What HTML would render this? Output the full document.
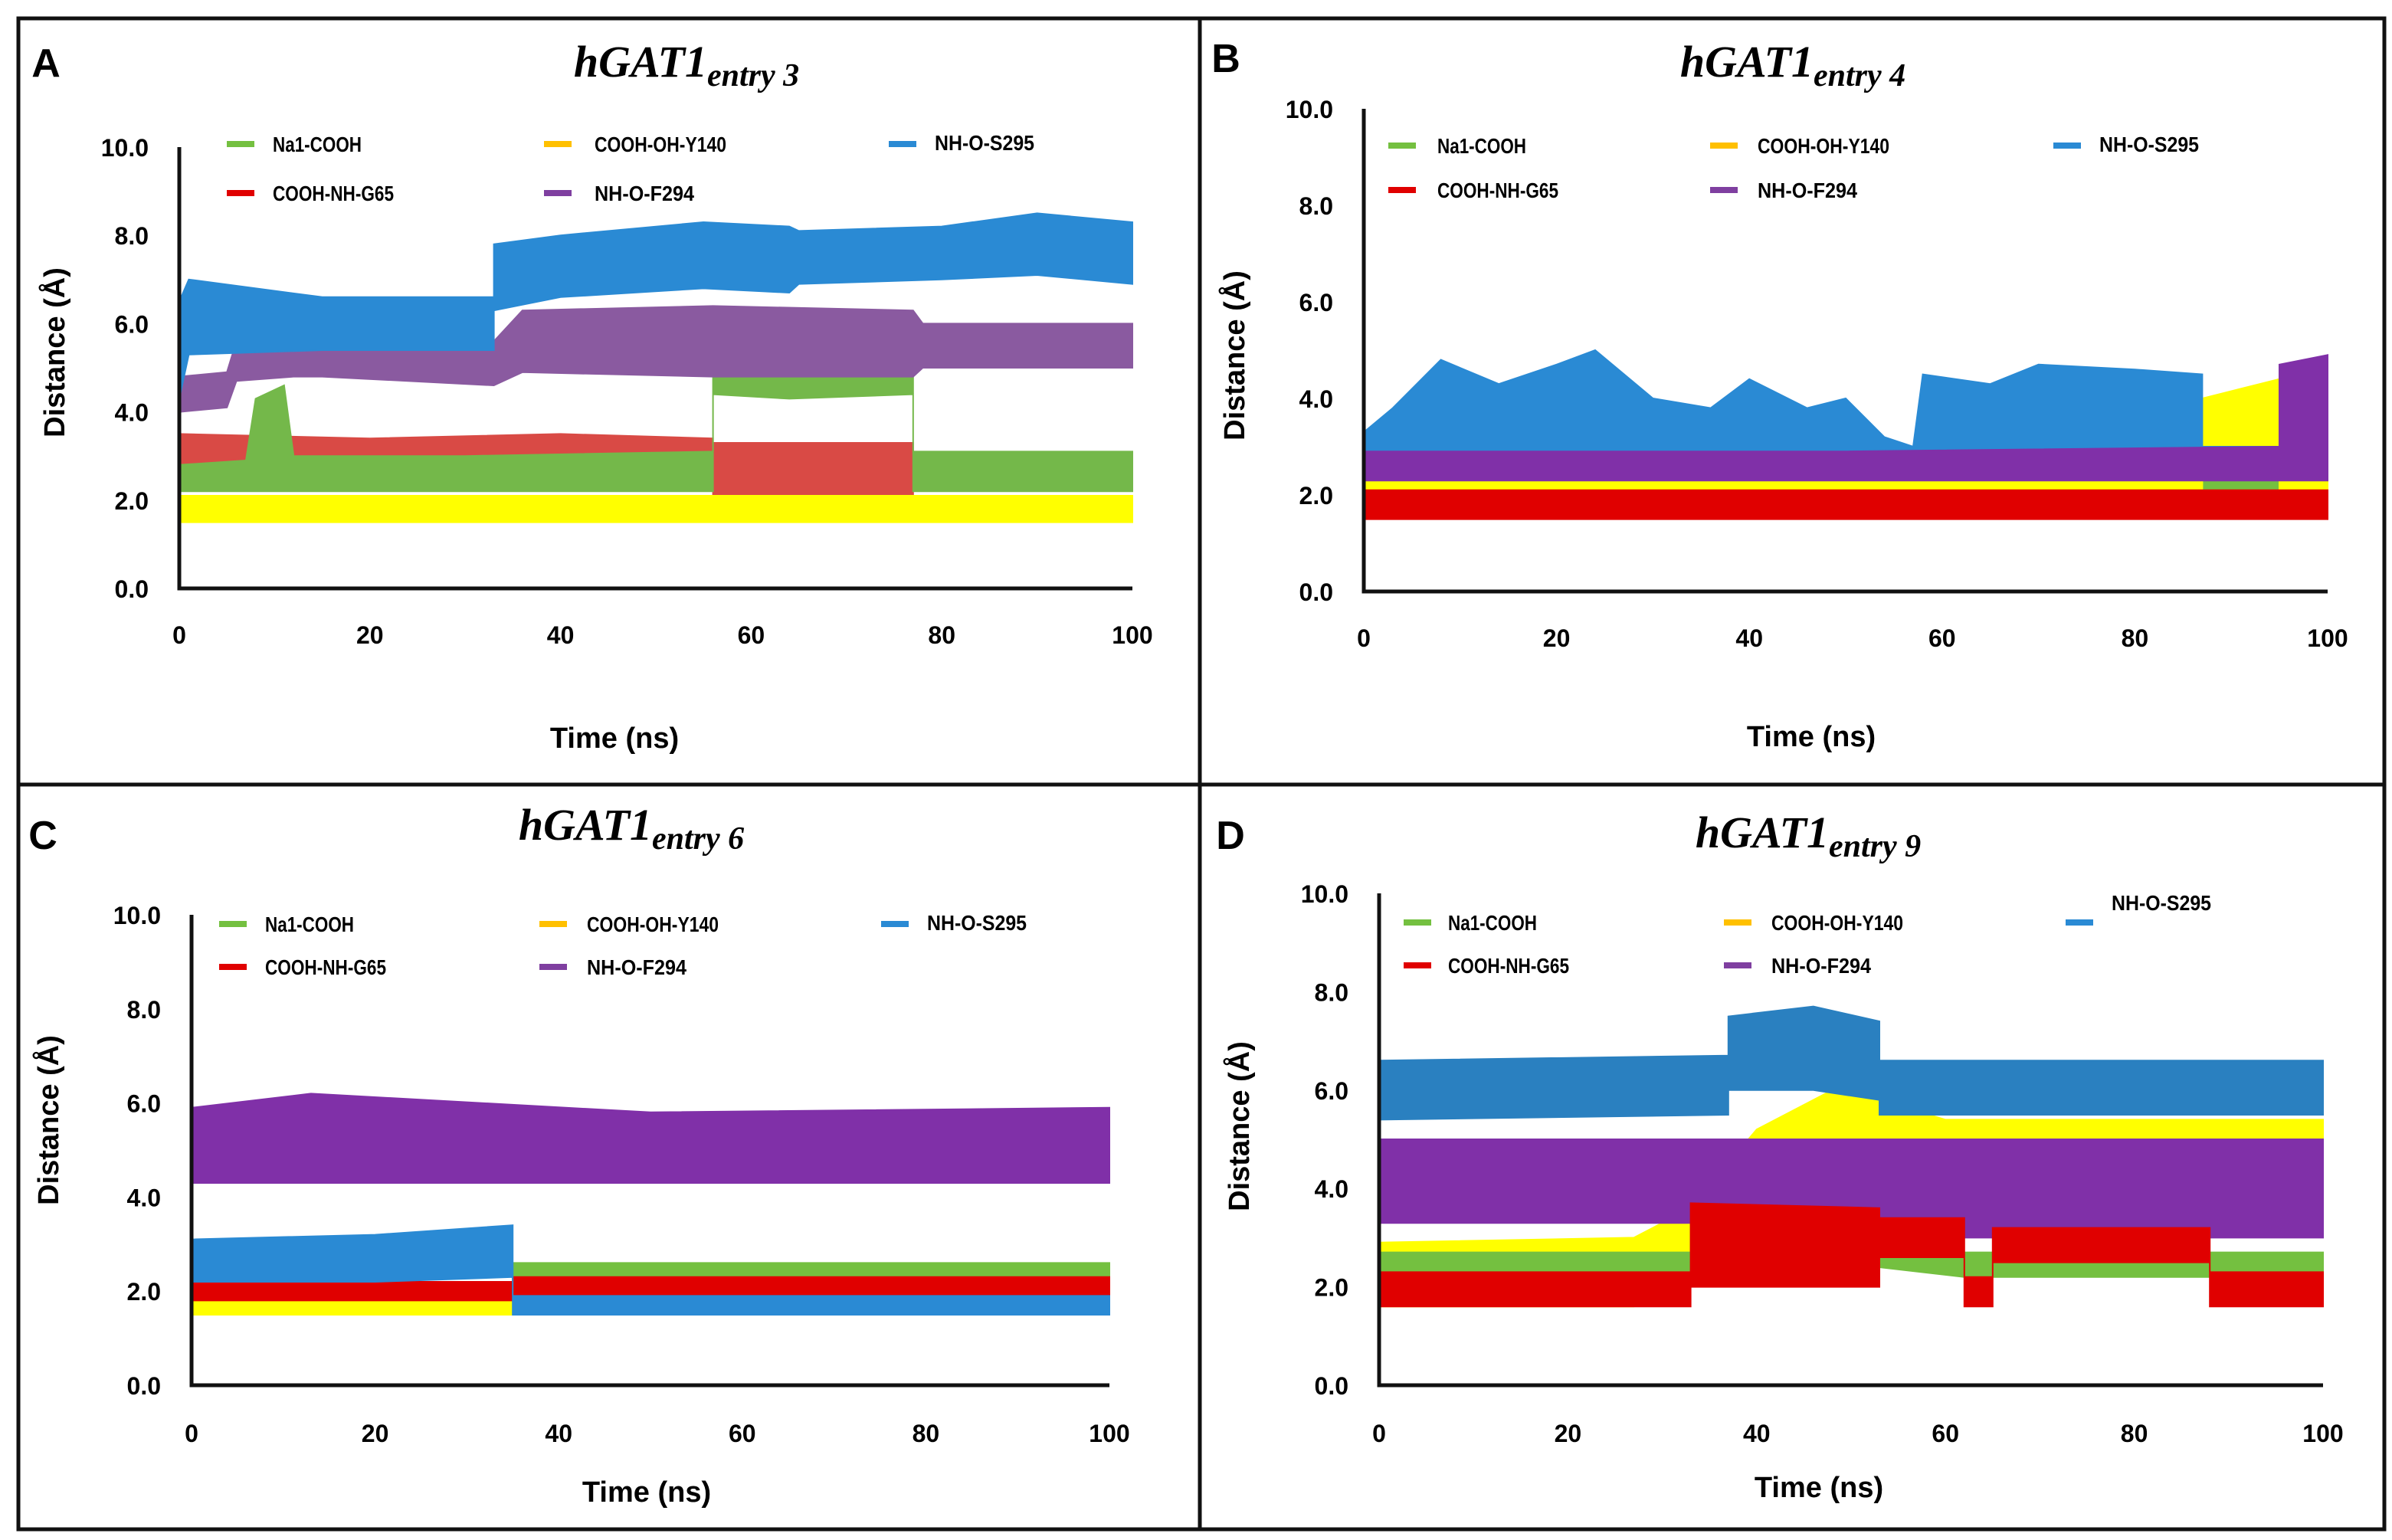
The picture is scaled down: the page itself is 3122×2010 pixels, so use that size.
<!DOCTYPE html>
<html><head><meta charset="utf-8"><style>
html,body{margin:0;padding:0;background:#fff}
svg{display:block}
</style></head><body>
<svg id="fig" width="3122" height="2010" viewBox="0 0 1561 1005" xmlns="http://www.w3.org/2000/svg" font-family="Liberation Sans, sans-serif">
<rect x="12" y="12" width="1544" height="986" fill="none" stroke="#111" stroke-width="2.5"/>
<line x1="783" y1="12" x2="783" y2="998" stroke="#111" stroke-width="2.5"/>
<line x1="12" y1="512" x2="1556" y2="512" stroke="#111" stroke-width="2.5"/>
</svg>
<script>
// ---- data: each series is [time(ns), low(Å), high(Å)] band samples ----
const xTicks = [0, 20, 40, 60, 80, 100];
const yTicks = [0, 2, 4, 6, 8, 10];
const seriesNames = ["Na1-COOH", "COOH-OH-Y140", "NH-O-S295", "COOH-NH-G65", "NH-O-F294"];

// Panel A
const A_red = [[0,2.5,3.5],[20,2.5,3.4],[40,2.6,3.5],[56,2.6,3.4],[56,2.0,3.3],[77,2.0,3.3],[77,2.3,3.0],[100,2.3,3.0]];
const A_green = [[0,2.2,2.8],[7,2.2,2.9],[8,2.2,4.3],[11,2.2,4.6],[12,2.2,3.0],[30,2.2,3.0],[56,2.2,3.1],[56,4.4,5.1],[64,4.3,5.2],[77,4.4,5.0],[77,2.2,3.1],[100,2.2,3.1]];
const A_yellow = [[0,1.5,2.1],[50,1.5,2.1],[100,1.5,2.1]];
const A_purple = [[0,4.0,4.8],[5,4.1,4.9],[6,4.7,5.6],[12,4.8,6.6],[15,4.8,6.0],[33,4.6,5.6],[36,4.9,6.3],[56,4.8,6.4],[77,4.8,6.3],[78,5.0,6.0],[100,5.0,6.0]];
const A_blue = [[0,4.3,6.5],[1,5.3,7.0],[15,5.4,6.6],[33,5.4,6.6],[33,6.3,7.8],[40,6.6,8.0],[55,6.8,8.3],[64,6.7,8.2],[65,6.9,8.1],[80,7.0,8.2],[90,7.1,8.5],[100,6.9,8.3]];

// Panel B
const B_red = [[0,1.5,2.1],[50,1.5,2.1],[100,1.5,2.1]];
const B_green = [[0,2.1,2.3],[100,2.1,2.3]];
const B_yellow = [[0,2.0,2.3],[87,2.0,2.3],[87,2.6,4.0],[95,2.6,4.4],[95,2.0,2.3],[100,2.0,2.3]];
const B_blue = [[0,2.5,3.3],[3,2.6,3.8],[8,2.7,4.8],[14,2.7,4.3],[20,2.7,4.7],[24,2.7,5.0],[30,2.7,4.0],[36,2.7,3.8],[40,2.7,4.4],[46,2.7,3.8],[50,2.7,4.0],[54,2.6,3.2],[57,2.6,3.0],[58,2.8,4.5],[65,2.8,4.3],[70,2.8,4.7],[80,2.8,4.6],[87,2.8,4.5],[87,2.6,3.0],[100,2.6,3.0]];
const B_purple = [[0,2.3,2.9],[50,2.3,2.9],[95,2.3,3.0],[95,2.3,4.7],[100,2.3,4.9]];

// Panel C
const C_yellow = [[0,1.5,2.0],[35,1.5,2.0],[35,1.6,2.0],[100,1.6,2.0]];
const C_green = [[35,2.2,2.6],[100,2.2,2.6]];
const C_red = [[0,1.8,2.2],[35,1.8,2.2],[35,1.9,2.3],[100,1.9,2.3]];
const C_blue = [[0,2.2,3.1],[20,2.2,3.2],[35,2.3,3.4],[35,1.5,1.9],[100,1.5,1.9]];
const C_purple = [[0,4.3,5.9],[13,4.3,6.2],[50,4.3,5.8],[100,4.3,5.9]];

// Panel D
const D_yellow = [[0,1.6,2.9],[27,1.6,3.0],[33,2.2,3.6],[40,2.5,5.2],[48,3.0,6.0],[53,3.0,5.8],[60,3.6,5.4],[100,3.4,5.4]];
const D_green = [[0,2.2,2.7],[33,2.2,2.7],[33,2.4,3.4],[53,2.4,3.4],[62,2.2,2.7],[65,2.2,2.7],[88,2.2,2.7],[100,2.2,2.7]];
const D_purple = [[0,3.3,5.0],[33,3.3,5.0],[36,3.0,5.0],[100,3.0,5.0]];
const D_red = [[0,1.6,2.3],[33,1.6,2.3],[33,2.0,3.7],[53,2.0,3.6],[53,2.6,3.4],[62,2.6,3.4],[62,1.6,2.2],[65,1.6,2.2],[65,2.5,3.2],[88,2.5,3.2],[88,1.6,2.3],[100,1.6,2.3]];
const D_blue = [[0,5.4,6.6],[37,5.5,6.7],[37,6.0,7.5],[46,6.0,7.7],[53,5.8,7.4],[53,5.5,6.6],[100,5.5,6.6]];

const panels = [
 {id:"a", letter:"A", lx:30, ly:50, title:[448,50], sub:"entry 3", x0:117, x1:739, y0:384, y10:96, tickY:420, tLabel:[401,488], yLabel:[42,230],
  leg:{r1:94, r2:126, c:[148,355,580], t:[178,388,610], blueTextY:93},
  colors:{green:"#74b84a",yellow:"#ffff00",red:"#d94a45",purple:"#8a5aa0",blue:"#2a8ad4"},
  order:[["red",A_red],["green",A_green],["yellow",A_yellow],["purple",A_purple],["blue",A_blue]]},
 {id:"b", letter:"B", lx:800, ly:47, title:[1170,50], sub:"entry 4", x0:890, x1:1519, y0:386, y10:71, tickY:422, tLabel:[1182,487], yLabel:[812,232],
  leg:{r1:95, r2:124, c:[906,1116,1340], t:[938,1147,1370], blueTextY:94},
  colors:{green:"#74c040",yellow:"#ffff00",red:"#e00000",purple:"#8030a8",blue:"#2a8ad4"},
  order:[["green",B_green],["yellow",B_yellow],["blue",B_blue],["purple",B_purple],["red",B_red]]},
 {id:"c", letter:"C", lx:28, ly:554, title:[412,548], sub:"entry 6", x0:125, x1:724, y0:904, y10:597, tickY:941, tLabel:[422,980], yLabel:[38,731],
  leg:{r1:603, r2:631, c:[143,352,575], t:[173,383,605], blueTextY:602},
  colors:{green:"#74c040",yellow:"#ffff00",red:"#e00000",purple:"#8030a8",blue:"#2a8ad4"},
  order:[["yellow",C_yellow],["green",C_green],["red",C_red],["blue",C_blue],["purple",C_purple]]},
 {id:"d", letter:"D", lx:803, ly:554, title:[1180,553], sub:"entry 9", x0:900, x1:1516, y0:904, y10:583, tickY:941, tLabel:[1187,977], yLabel:[815,735],
  leg:{r1:602, r2:630, c:[916,1125,1348], t:[945,1156,1378], blueTextY:589},
  colors:{green:"#74c040",yellow:"#ffff00",red:"#e00000",purple:"#8030a8",blue:"#2a80c0"},
  order:[["yellow",D_yellow],["green",D_green],["purple",D_purple],["red",D_red],["blue",D_blue]]}
];

const NS = "http://www.w3.org/2000/svg";
const fig = document.getElementById("fig");
function mk(tag, attrs, parent, txt){
  const e = document.createElementNS(NS, tag);
  for (const k in attrs) e.setAttribute(k, attrs[k]);
  if (txt !== undefined) e.textContent = txt;
  parent.appendChild(e);
  return e;
}

panels.forEach(p => {
  const g = mk("g", {}, fig);
  
  
  const xs = t => p.x0 + (p.x1 - p.x0) * t / 100;
  const ys = v => p.y0 - (p.y0 - p.y10) * v / 10;

  const L = mk("text", {x:p.lx, y:p.ly, "font-size":26, "font-weight":"bold", "text-anchor":"middle"}, g, p.letter);
  
  

  const T = mk("text", {x:p.title[0], y:p.title[1], "text-anchor":"middle", "font-family":"Liberation Serif, serif", "font-style":"italic", "font-weight":"bold", "font-size":29}, g);
  
  
  mk("tspan", {}, T, "hGAT1");
  mk("tspan", {"font-size":21, dy:6}, T, p.sub);

  p.order.forEach(([name, data]) => {
    const up = data.map(d => xs(d[0]).toFixed(1) + "," + ys(d[2]).toFixed(1));
    const lo = data.slice().reverse().map(d => xs(d[0]).toFixed(1) + "," + ys(d[1]).toFixed(1));
    const poly = mk("polygon", {points: up.concat(lo).join(" "), fill: p.colors[name], stroke: p.colors[name], "stroke-width":1}, g);
    
    
  });

  const ax = mk("path", {d:`M${p.x0},${ys(10)} V${p.y0} H${p.x1}`, fill:"none", stroke:"#111", "stroke-width":2.5}, g);
  
  

  yTicks.forEach(v => {
    const t = mk("text", {x:p.x0 - 20, y:ys(v) + 6, "font-size":16, "font-weight":"bold", "text-anchor":"end"}, g, v.toFixed(1));
    
    
  });
  xTicks.forEach(v => {
    const t = mk("text", {x:xs(v), y:p.tickY, "font-size":16, "font-weight":"bold", "text-anchor":"middle"}, g, String(v));
    
    
  });
  const xt = mk("text", {x:p.tLabel[0], y:p.tLabel[1], "font-size":19, "font-weight":"bold", "text-anchor":"middle"}, g, "Time (ns)");
  
  
  const yt = mk("text", {x:p.yLabel[0], y:p.yLabel[1], "font-size":19, "font-weight":"bold", "text-anchor":"middle", transform:`rotate(-90 ${p.yLabel[0]} ${p.yLabel[1]})`}, g, "Distance (Å)");
  
  

  const legColors = ["#74c040", "#ffc000", "#2a8ad4", "#e00000", "#7f3fa0"];
  const pos = [[0,p.leg.r1],[1,p.leg.r1],[2,p.leg.r1],[0,p.leg.r2],[1,p.leg.r2]];
  pos.forEach(([c, y], i) => {
    const lg = mk("g", {}, g);
    
    
    mk("line", {x1:p.leg.c[c], y1:y, x2:p.leg.c[c] + 18, y2:y, stroke:legColors[i], "stroke-width":4}, lg);
    const ty = (i === 2) ? p.leg.blueTextY : y;
    mk("text", {x:p.leg.t[c], y:ty + 5, "font-size":14, "font-weight":"bold", textLength: (seriesNames[i].length * 7.2).toFixed(0), lengthAdjust:"spacingAndGlyphs"}, lg, seriesNames[i]);
  });
});
</script>
</body></html>
